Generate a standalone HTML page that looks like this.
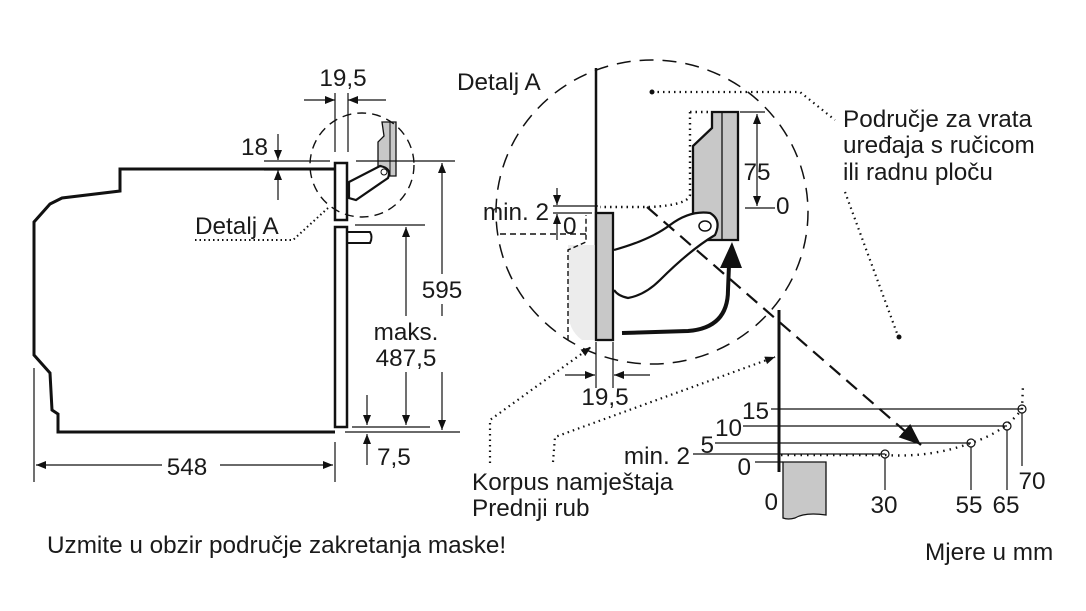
<!DOCTYPE html>
<html><head><meta charset="utf-8"><style>
html,body{margin:0;padding:0;background:#fff;}
svg{display:block;}
text{font-family:"Liberation Sans",sans-serif;font-size:24.3px;fill:#1a1a1a;}
.m{text-anchor:middle;}
.e{text-anchor:end;}
</style></head><body>
<svg width="1086" height="611" viewBox="0 0 1086 611" xmlns="http://www.w3.org/2000/svg">
<defs>
<marker id="a" viewBox="0 0 10 10" refX="10" refY="5" markerWidth="10" markerHeight="10" orient="auto-start-reverse" markerUnits="userSpaceOnUse"><path d="M0,1 L10,5 L0,9 z" fill="#111"/></marker>
<marker id="b" viewBox="0 0 10 10" refX="10" refY="5" markerWidth="22" markerHeight="22" orient="auto" markerUnits="userSpaceOnUse"><path d="M0,1 L10,5 L0,9 z" fill="#111"/></marker>
</defs>
<g fill="none" stroke="#111">
<path d="M335,169 L120,169 L120,191 L62,198 L50,204 L34,222 L34,355 L50,373 L52,410 L58,414 L58,432 L335,432" stroke-width="3"/>
<rect x="335" y="163" width="12" height="57" stroke-width="2.5"/>
<rect x="335" y="227" width="12" height="200" stroke-width="2.5"/>
<path d="M347,232 L370,232 Q373,237 370,243 L347,243" stroke-width="2"/>
<path d="M382,122 L396,122 L396,176 L378,176 L378,142 L384,136 Z" fill="#c8c8c8" stroke-width="1.3"/>
<line x1="390" y1="122" x2="390" y2="176" stroke-width="1"/>
<path d="M349,182 L380,166 Q392,168 388,178 L356,200 L349,198 Z" fill="#fff" stroke-width="2.2"/>
<circle cx="384" cy="172" r="3" stroke-width="1"/>
<ellipse cx="362" cy="165" rx="52" ry="52" stroke-dasharray="9,6" stroke-width="1.4"/>
<line x1="335" y1="93" x2="335" y2="152" stroke-width="1.2"/>
<line x1="348" y1="93" x2="348" y2="152" stroke-width="1.2"/>
<line x1="304" y1="100" x2="335" y2="100" stroke-width="1.2" marker-end="url(#a)"/>
<line x1="386" y1="100" x2="348" y2="100" stroke-width="1.2" marker-end="url(#a)"/>
<line x1="278" y1="134" x2="278" y2="160" stroke-width="1.2" marker-end="url(#a)"/>
<line x1="278" y1="200" x2="278" y2="170" stroke-width="1.2" marker-end="url(#a)"/>
<line x1="264" y1="161" x2="330" y2="161" stroke-width="1.2"/>
<line x1="356" y1="161" x2="455" y2="161" stroke-width="1.2"/>
<line x1="264" y1="170" x2="280" y2="170" stroke-width="1.2"/>
<line x1="442" y1="163" x2="442" y2="430" stroke-width="1.2" marker-start="url(#a)" marker-end="url(#a)"/>
<line x1="345" y1="432" x2="460" y2="432" stroke-width="1.2"/>
<line x1="355" y1="225" x2="425" y2="225" stroke-width="1.2"/>
<line x1="352" y1="427" x2="430" y2="427" stroke-width="1.2"/>
<line x1="406" y1="227" x2="406" y2="425" stroke-width="1.2" marker-start="url(#a)" marker-end="url(#a)"/>
<line x1="367" y1="395" x2="367" y2="425" stroke-width="1.2" marker-end="url(#a)"/>
<line x1="367" y1="465" x2="367" y2="434" stroke-width="1.2" marker-end="url(#a)"/>
<line x1="34" y1="368" x2="34" y2="482" stroke-width="1.2"/>
<line x1="335" y1="442" x2="335" y2="482" stroke-width="1.2"/>
<line x1="36" y1="465" x2="162" y2="465" stroke-width="1.2" marker-start="url(#a)"/>
<line x1="220" y1="465" x2="333" y2="465" stroke-width="1.2" marker-end="url(#a)"/>
<path d="M195,240 L293,240 L328,208" stroke-width="2" stroke-dasharray="1.5,3"/>
<ellipse cx="652" cy="212" rx="156" ry="152" stroke-dasharray="14,9" stroke-width="1.5"/>
<line x1="596" y1="68" x2="596" y2="340" stroke-width="2.5"/>
<path d="M586,245 L596,245 L596,340 L582,340 Q568,330 568,310 L568,245 Z" fill="#ececec" stroke="none"/>
<path d="M568,340 L568,250 L586,242 L586,215" stroke-width="1.4" stroke-dasharray="5,3"/>
<line x1="500" y1="234" x2="586" y2="234" stroke-width="1.4" stroke-dasharray="6,4"/>
<rect x="596" y="213" width="17" height="127" fill="#c8c8c8" stroke-width="2.3"/>
<path d="M712,112 L738,112 L738,240 L693,240 L693,146 L712,128 Z" fill="#c8c8c8" stroke-width="2.3"/>
<line x1="722" y1="112" x2="722" y2="240" stroke-width="1.3"/>
<path d="M690,112 L712,112 M690,112 L690,195 Q688,205 650,207 L600,207" stroke-width="2.4" stroke-dasharray="1.5,4"/>
<path d="M614,250 Q650,240 670,225 Q690,210 710,213 Q722,220 715,235 Q690,250 660,280 Q645,295 628,298 Q618,296 614,290" fill="#fff" stroke-width="2.2"/>
<ellipse cx="705" cy="226" rx="6" ry="5" stroke-width="1.5"/>
<path d="M622,333 L688,331 Q728,328 728,290 L729,265" stroke-width="4"/>
<path d="M720,268 L732,242 L742,268 Z" fill="#111" stroke="none"/>
<line x1="740" y1="112" x2="765" y2="112" stroke-width="1.2"/>
<line x1="757" y1="114" x2="757" y2="206" stroke-width="1.2" marker-start="url(#a)" marker-end="url(#a)"/>
<line x1="745" y1="208" x2="775" y2="208" stroke-width="1.2"/>
<line x1="557" y1="188" x2="557" y2="205" stroke-width="1.2" marker-end="url(#a)"/>
<line x1="557" y1="240" x2="557" y2="214" stroke-width="1.2" marker-end="url(#a)"/>
<line x1="553" y1="206" x2="598" y2="206" stroke-width="1.2"/>
<line x1="553" y1="213" x2="592" y2="213" stroke-width="1.2"/>
<line x1="647" y1="207" x2="921" y2="445" stroke-width="2.2" stroke-dasharray="14,8" marker-end="url(#b)"/>
<line x1="596" y1="342" x2="596" y2="388" stroke-width="1.2"/>
<line x1="613" y1="342" x2="613" y2="388" stroke-width="1.2"/>
<line x1="565" y1="375" x2="595" y2="375" stroke-width="1.2" marker-end="url(#a)"/>
<line x1="650" y1="375" x2="614" y2="375" stroke-width="1.2" marker-end="url(#a)"/>
<path d="M490,463 L490,420 L591,347" stroke-width="2.2" stroke-dasharray="1.5,4" marker-end="url(#a)"/>
<path d="M553,462 L555,437 L775,357" stroke-width="2.2" stroke-dasharray="1.5,4" marker-end="url(#a)"/>
<path d="M652,92 L800,92 L835,120" stroke-width="2.2" stroke-dasharray="1.5,4"/>
<path d="M845,192 L898,336" stroke-width="2.2" stroke-dasharray="1.5,4"/>
<line x1="779" y1="310" x2="779" y2="472" stroke-width="3"/>
<path d="M783,462 L826,462 L826,515 Q805,512 795,518 Q788,520 783,518 Z" fill="#c8c8c8" stroke-width="1.3"/>
<line x1="771" y1="409" x2="1022" y2="409" stroke-width="1.2"/>
<line x1="743" y1="426" x2="1007" y2="426" stroke-width="1.2"/>
<line x1="715" y1="443" x2="971" y2="443" stroke-width="1.2"/>
<line x1="693" y1="454" x2="885" y2="454" stroke-width="1.2"/>
<line x1="755" y1="462" x2="783" y2="462" stroke-width="1.2"/>
<path d="M781,455 L885,455 Q930,458 971,443 Q1005,432 1022,409 L1023,385" stroke-width="2.4" stroke-dasharray="1.5,5"/>
<g stroke-width="1.2"><circle cx="885" cy="454" r="4"/><circle cx="971" cy="443" r="4"/><circle cx="1007" cy="426" r="4"/><circle cx="1022" cy="409" r="4"/>
<line x1="885" y1="458" x2="885" y2="490"/><line x1="971" y1="447" x2="971" y2="490"/><line x1="1007" y1="430" x2="1007" y2="490"/><line x1="1022" y1="413" x2="1022" y2="466"/></g>
<circle cx="652" cy="92" r="2" fill="#111"/><circle cx="899" cy="337" r="2" fill="#111"/>
</g>
<rect x="420" y="274" width="44" height="30" fill="#fff"/>
<rect x="370" y="316" width="74" height="56" fill="#fff"/>
<rect x="163" y="452" width="56" height="28" fill="#fff"/>
<text class="m" x="343" y="86">19,5</text>
<text class="e" x="268" y="155">18</text>
<text x="195" y="234">Detalj A</text>
<text class="m" x="442" y="298">595</text>
<text class="m" x="406" y="340">maks.</text>
<text class="m" x="406" y="366">487,5</text>
<text x="377" y="465">7,5</text>
<text class="m" x="187" y="475">548</text>
<text x="457" y="90">Detalj A</text>
<text class="e" x="549" y="220">min. 2</text>
<text x="563" y="234">0</text>
<text class="m" x="757" y="180">75</text>
<text x="776" y="214">0</text>
<text class="m" x="605" y="405">19,5</text>
<text x="843" y="127">Područje za vrata</text>
<text x="843" y="153">uređaja s ručicom</text>
<text x="843" y="180">ili radnu ploču</text>
<text x="472" y="490">Korpus namještaja</text>
<text x="472" y="516">Prednji rub</text>
<text class="e" x="769" y="419">15</text>
<text class="e" x="742" y="436">10</text>
<text class="e" x="714" y="453">5</text>
<text class="e" x="690" y="464">min. 2</text>
<text class="e" x="751" y="475">0</text>
<text class="e" x="778" y="510">0</text>
<text class="m" x="884" y="513">30</text>
<text class="m" x="969" y="513">55</text>
<text class="m" x="1006" y="513">65</text>
<text class="m" x="1032" y="489">70</text>
<text x="47" y="553">Uzmite u obzir područje zakretanja maske!</text>
<text x="925" y="560">Mjere u mm</text>
</svg>
</body></html>
